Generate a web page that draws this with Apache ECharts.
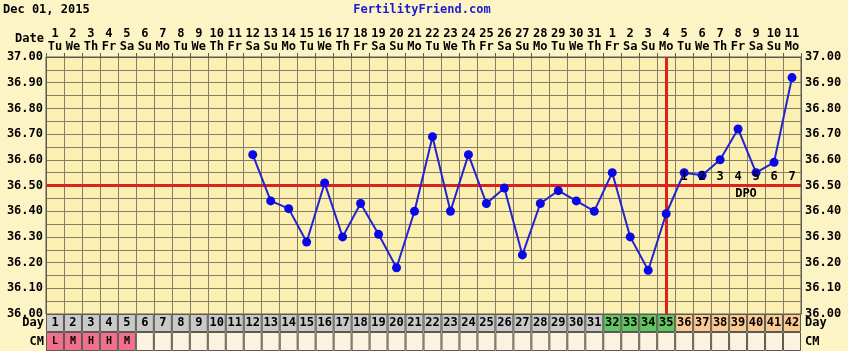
<!DOCTYPE html>
<html>
<head>
<meta charset="utf-8">
<script src="https://cdn.jsdelivr.net/npm/echarts@6/dist/echarts.min.js"></script>
<style>
  html, body { margin: 0; padding: 0; background: #fdf4c6; }
  #chart { width: 848px; height: 351px; }
</style>
</head>
<body>
<div id="chart"></div>
<script>
  // cycle days, calendar dates and weekdays
  const days = ['1','2','3','4','5','6','7','8','9','10','11','12','13','14','15','16','17','18','19','20','21',
    '22','23','24','25','26','27','28','29','30','31','32','33','34','35','36','37','38','39','40','41','42'];
  const dates = ['1','2','3','4','5','6','7','8','9','10','11','12','13','14','15','16','17','18','19','20','21',
    '22','23','24','25','26','27','28','29','30','31','1','2','3','4','5','6','7','8','9','10','11'];
  const weekdays = ['Tu','We','Th','Fr','Sa','Su','Mo','Tu','We','Th','Fr','Sa','Su','Mo','Tu','We','Th','Fr','Sa','Su','Mo',
    'Tu','We','Th','Fr','Sa','Su','Mo','Tu','We','Th','Fr','Sa','Su','Mo','Tu','We','Th','Fr','Sa','Su','Mo'];
  // temperatures, days 1-11 not recorded
  const temps = [null, null, null, null, null, null, null, null, null, null, null,
    36.62, 36.44, 36.41, 36.28, 36.51, 36.30, 36.43, 36.31, 36.18, 36.40,
    36.69, 36.40, 36.62, 36.43, 36.49, 36.23, 36.43, 36.48, 36.44, 36.40,
    36.55, 36.30, 36.17, 36.39, 36.55, 36.54, 36.60, 36.72, 36.55, 36.59, 36.92];
  const coverline = 36.50;
  const ovulationDay = '35';
  const fertileDays = ['32', '33', '34', '35'];
  const lutealDays = ['36', '37', '38', '39', '40', '41', '42'];
  const dpoLabels = ['1', '2', '3', '4', '5', '6', '7'];
  const cm = ['L','M','H','H','M','','','','','','','','','','','','','','','','',
    '','','','','','','','','','','','','','','','','','','','',''];
  const yTicks = ['36.00','36.10','36.20','36.30','36.40','36.50','36.60','36.70','36.80','36.90','37.00'];

  const mono = '"DejaVu Sans Mono", monospace';
  const gridColor = '#857d68';
  const boldFont = 'bold 12px ' + mono;

  const chart = echarts.init(document.getElementById('chart'));

  function tempLabel(v) {
    const s = v.toFixed(2);
    return yTicks.indexOf(s) >= 0 ? s : '';
  }
  function dayColor(d) {
    if (fertileDays.indexOf(d) >= 0) return '#62c462';
    if (lutealDays.indexOf(d) >= 0) return '#fdc993';
    return '#c9c9c9';
  }

  const option = {
    animation: false,
    backgroundColor: '#fdf4c6',
    grid: [
      {left: 46, right: 47, top: 57, height: 257, show: true, backgroundColor: '#fcefb2', borderColor: '#5a5a50', borderWidth: 1},
      {left: 46, right: 47, top: 314, height: 18},
      {left: 46, right: 47, top: 332, height: 19}
    ],
    xAxis: [
      {
        type: 'category', gridIndex: 0, data: days, position: 'top', boundaryGap: true,
        axisLine: {show: true, lineStyle: {color: '#5a5a50'}},
        axisTick: {show: true, interval: 0, length: 4, lineStyle: {color: '#5a5a50'}},
        axisLabel: {
          interval: 0, margin: 4, color: '#000', fontFamily: mono, fontWeight: 'bold', fontSize: 12, lineHeight: 13,
          formatter: function (v, i) { return dates[i] + '\n' + weekdays[i]; }
        },
        splitLine: {show: true, interval: 0, lineStyle: {color: gridColor, width: 1}}
      },
      {type: 'category', gridIndex: 1, data: days, show: false},
      {type: 'category', gridIndex: 2, data: days, show: false}
    ],
    yAxis: [
      {
        type: 'value', gridIndex: 0, min: 36, max: 37, interval: 0.05, position: 'left',
        axisLine: {show: true, lineStyle: {color: '#5a5a50'}},
        axisTick: {show: false},
        axisLabel: {margin: 3, color: '#000', fontFamily: mono, fontWeight: 'bold', fontSize: 12, formatter: tempLabel},
        splitLine: {show: true, lineStyle: {color: gridColor, width: 1}}
      },
      {
        type: 'value', gridIndex: 0, min: 36, max: 37, interval: 0.05, position: 'right',
        axisLine: {show: true, lineStyle: {color: '#5a5a50'}},
        axisTick: {show: false},
        axisLabel: {margin: 4, color: '#000', fontFamily: mono, fontWeight: 'bold', fontSize: 12, formatter: tempLabel},
        splitLine: {show: false}
      },
      {type: 'value', gridIndex: 1, min: 0, max: 1, show: false},
      {type: 'value', gridIndex: 2, min: 0, max: 1, show: false}
    ],
    graphic: [
      {type: 'text', x: 3, y: 10, style: {text: 'Dec 01, 2015', font: boldFont, fill: '#000', textVerticalAlign: 'middle'}},
      {type: 'text', x: 422, y: 10, style: {text: 'FertilityFriend.com', font: boldFont, fill: '#1a1ad0', textAlign: 'center', textVerticalAlign: 'middle'}},
      {type: 'text', x: 44, y: 39, style: {text: 'Date', font: boldFont, fill: '#000', textAlign: 'right', textVerticalAlign: 'middle'}},
      {type: 'text', x: 44, y: 323, style: {text: 'Day', font: boldFont, fill: '#000', textAlign: 'right', textVerticalAlign: 'middle'}},
      {type: 'text', x: 44, y: 342, style: {text: 'CM', font: boldFont, fill: '#000', textAlign: 'right', textVerticalAlign: 'middle'}},
      {type: 'text', x: 805, y: 323, style: {text: 'Day', font: boldFont, fill: '#000', textVerticalAlign: 'middle'}},
      {type: 'text', x: 805, y: 342, style: {text: 'CM', font: boldFont, fill: '#000', textVerticalAlign: 'middle'}},
      {type: 'text', x: 746, y: 194, z: 10, style: {text: 'DPO', font: boldFont, fill: '#000', textAlign: 'center', textVerticalAlign: 'middle'}}
    ],
    series: [
      {
        name: 'temp', type: 'line', xAxisIndex: 0, yAxisIndex: 0, data: temps,
        symbol: 'circle', symbolSize: 9, z: 5,
        lineStyle: {color: '#2323cf', width: 2},
        itemStyle: {color: '#0808e8'},
        markLine: {
          silent: true, symbol: 'none', label: {show: false},
          lineStyle: {color: '#dd2020', width: 3, type: 'solid'},
          data: [{yAxis: coverline}, {xAxis: ovulationDay}]
        }
      },
      {
        name: 'dpo', type: 'scatter', xAxisIndex: 0, yAxisIndex: 0, symbolSize: 1, z: 6,
        itemStyle: {opacity: 1, color: 'rgba(0,0,0,0)'},
        data: lutealDays.map(function (d) { return [d, coverline]; }),
        label: {
          show: true, position: 'top', distance: 2, color: '#000', opacity: 1, fontFamily: mono, fontWeight: 'bold', fontSize: 12,
          formatter: function (p) { return dpoLabels[p.dataIndex]; }
        }
      },
      {
        name: 'day', type: 'bar', xAxisIndex: 1, yAxisIndex: 2, barWidth: '100%',
        data: days.map(function (d) { return {value: 1, itemStyle: {color: dayColor(d)}}; }),
        itemStyle: {borderColor: '#5a5a50', borderWidth: 1},
        label: {
          show: true, position: 'inside', color: '#000', fontFamily: mono, fontWeight: 'bold', fontSize: 12,
          formatter: function (p) { return days[p.dataIndex]; }
        }
      },
      {
        name: 'cm', type: 'bar', xAxisIndex: 2, yAxisIndex: 3, barWidth: '100%',
        data: cm.map(function (c) { return {value: 1, itemStyle: {color: c ? '#f2708e' : '#fcf2e0'}}; }),
        itemStyle: {borderColor: '#5a5a50', borderWidth: 1},
        label: {
          show: true, position: 'inside', color: '#000', fontFamily: mono, fontWeight: 'bold', fontSize: 10,
          formatter: function (p) { return cm[p.dataIndex]; }
        }
      }
    ]
  };

  chart.setOption(option);
</script>
</body>
</html>
